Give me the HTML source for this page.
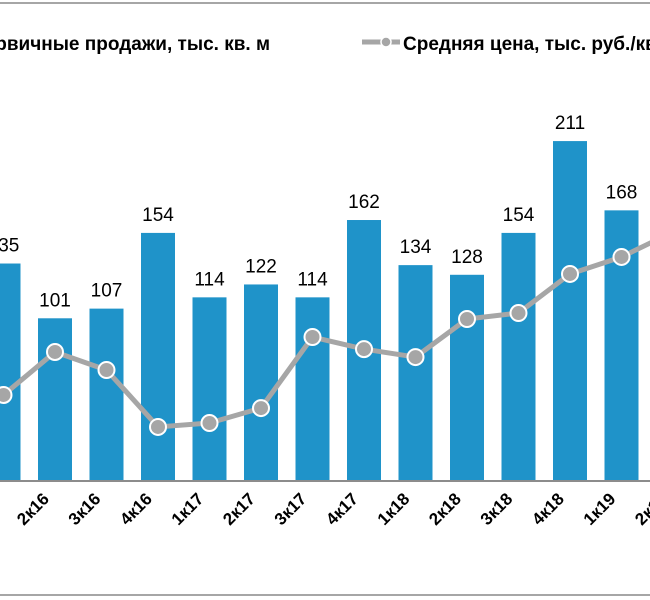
<!DOCTYPE html>
<html><head><meta charset="utf-8"><style>
html,body{margin:0;padding:0;background:#fff;}
svg{display:block;font-family:"Liberation Sans",Arial,sans-serif;}
</style></head><body>
<svg id="chart" width="650" height="600" viewBox="0 0 650 600" xmlns="http://www.w3.org/2000/svg">
<line x1="0" y1="3" x2="650" y2="3" stroke="#a6a6a6" stroke-width="2"/>
<line x1="0" y1="595" x2="650" y2="595" stroke="#a6a6a6" stroke-width="2"/>
<g>
<text x="270" y="50" text-anchor="end" font-size="19" font-weight="bold" fill="#000">Первичные продажи, тыс. кв. м</text>
<line x1="362" y1="42" x2="400" y2="42" stroke="#a6a6a6" stroke-width="5"/>
<circle cx="386" cy="42" r="5" fill="#a6a6a6" stroke="#fff" stroke-width="1.5"/>
<text x="403" y="50" font-size="19" font-weight="bold" fill="#000">Средняя цена, тыс. руб./кв. м</text>
</g>
<g id="bars"></g>
<g id="vals"></g>
<line x1="0" y1="481" x2="650" y2="481" stroke="#8c8c8c" stroke-width="2"/>
<g id="line"></g>
<g id="xlabels"></g>
</svg>
<script>
const categories = ["1к16","2к16","3к16","4к16","1к17","2к17","3к17","4к17","1к18","2к18","3к18","4к18","1к19","2к19"];
const salesValues = [135,101,107,154,114,122,114,162,134,128,154,211,168,190];
const priceValues = [50.6,75.9,65.3,31.8,34.1,42.9,84.7,77.6,72.9,95.3,98.8,121.8,131.8,146.5];

const NS = "http://www.w3.org/2000/svg";
const baseY = 481, pitch = 51.5, x0 = 3.5, barW = 34;
function xPos(i){ return x0 + i*pitch; }
function ySales(v){ return baseY - v*1.611; }
function yPrice(v){ return baseY - v*1.7; }
function mk(tag, attrs){ const e=document.createElementNS(NS,tag); for(const k in attrs) e.setAttribute(k,attrs[k]); return e; }

const bars=document.getElementById('bars'), vals=document.getElementById('vals'), line=document.getElementById('line'), xl=document.getElementById('xlabels');
salesValues.forEach((v,i)=>{
  const cx=xPos(i), top=ySales(v);
  const r=mk('rect',{x:cx-barW/2,y:top,width:barW,height:baseY-top,fill:'#1f93c9'});
  
  
  bars.appendChild(r);
  const t=mk('text',{x:cx,y:top-12,'text-anchor':'middle','font-size':'19',fill:'#000'});
  t.textContent=v;
  
  
  vals.appendChild(t);
  const lx=cx-5, ly=500;
  const l=mk('text',{x:lx,y:ly,'text-anchor':'end','font-size':'17','font-weight':'bold',fill:'#000',transform:'rotate(-45 '+lx+' '+ly+')'});
  l.textContent=categories[i];
  
  
  xl.appendChild(l);
});
const pts=priceValues.map((v,i)=>xPos(i)+','+yPrice(v)).join(' ');
const pl=mk('polyline',{points:pts,fill:'none',stroke:'#a6a6a6','stroke-width':'5','stroke-linejoin':'round'});


line.appendChild(pl);
priceValues.forEach((v,i)=>{
  const c=mk('circle',{cx:xPos(i),cy:yPrice(v),r:8,fill:'#a6a6a6',stroke:'#fff','stroke-width':'2'});
  
  
  line.appendChild(c);
});
</script>
</body></html>
